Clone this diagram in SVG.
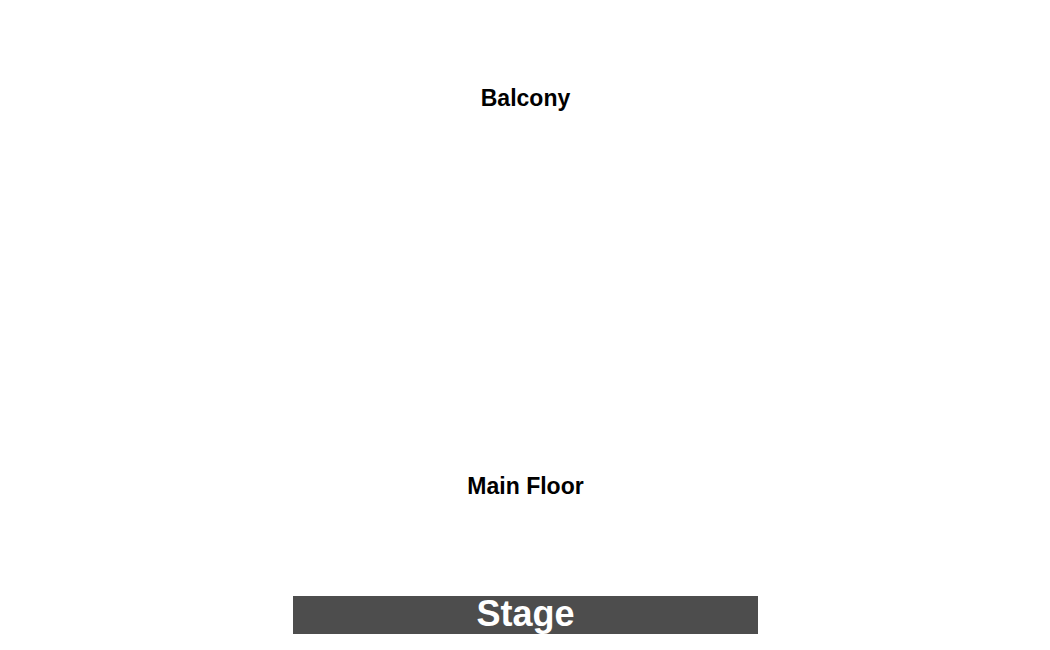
<svg xmlns="http://www.w3.org/2000/svg" width="1050" height="650" viewBox="0 0 1050 650">
<style>
.lbl{font-family:"Liberation Sans",Arial,sans-serif;font-weight:bold;text-anchor:middle}
</style>
<rect width="1050" height="650" fill="#fff"/>
<g id="balcony"><text class="lbl" x="525.5" y="106" font-size="23" fill="#000">Balcony</text></g>
<g id="main-floor"><text class="lbl" x="525.5" y="494" font-size="23" fill="#000">Main Floor</text></g>
<g id="stage">
<rect x="293" y="596" width="465" height="38" fill="#4d4d4d"/>
<text class="lbl" x="525.5" y="626" font-size="36" fill="#fff">Stage</text>
</g>
<g id="connectors"/>
</svg>
